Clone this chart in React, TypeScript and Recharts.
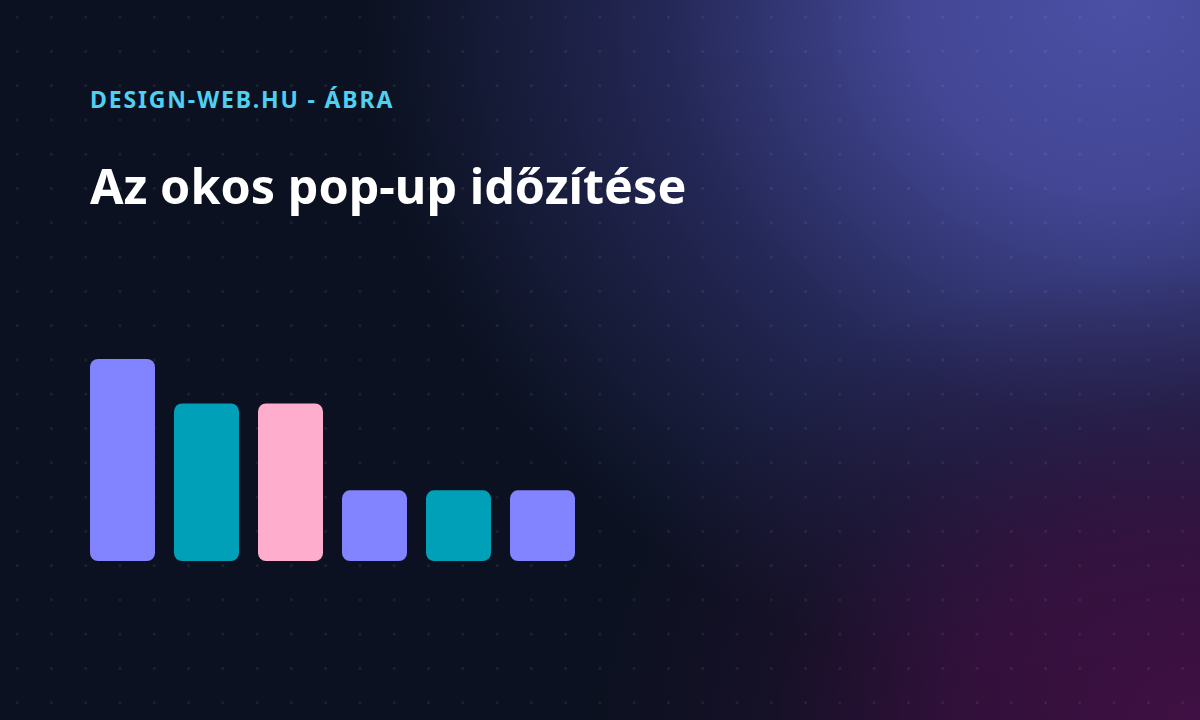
import { Bar, BarChart, Cell, XAxis, YAxis } from "recharts";

// Ábra adatai
const steps = ["1", "2", "3", "4", "5", "6"];
const values = [100, 78, 78, 35, 35, 35];
const barColors = ["#8183ff", "#00a0b8", "#ffadcc", "#8183ff", "#00a0b8", "#8183ff"];

const eyebrow = "DESIGN-WEB.HU - ÁBRA";
const title = "Az okos pop-up időzítése";

const data = steps.map((s, i) => ({ step: s, value: values[i] }));

const font = "'Noto Sans', 'Open Sans', sans-serif";

export default function App() {
  return (
    <div
      style={{
        position: "absolute",
        left: 0,
        top: 0,
        width: 1200,
        height: 720,
        overflow: "hidden",
        fontFamily: font,
        background: [
          "radial-gradient(rgba(255,255,255,0.08) 1px, transparent 1.6px) 0 0 / 34.29px 34.29px",
          "radial-gradient(ellipse 620px 460px at 1200px 720px, rgba(64,16,68,1) 0%, rgba(58,16,64,0.8) 40%, rgba(40,16,50,0.35) 70%, rgba(11,17,32,0) 100%)",
          "radial-gradient(ellipse 760px 700px at 1120px 0px, rgba(76,80,166,1) 0%, rgba(72,76,160,0.9) 28%, rgba(56,58,130,0.55) 60%, rgba(11,17,32,0) 100%)",
          "#0b1120",
        ].join(", "),
      }}
    >
      <div
        style={{
          position: "absolute",
          left: 90,
          top: 88,
          fontSize: 23,
          lineHeight: 1,
          fontWeight: 700,
          letterSpacing: 1.85,
          color: "#4fd0f0",
        }}
      >
        {eyebrow}
      </div>
      <div
        style={{
          position: "absolute",
          left: 90,
          top: 161,
          fontSize: 48.5,
          lineHeight: 1,
          fontWeight: 700,
          color: "#ffffff",
        }}
      >
        {title}
      </div>
      <div style={{ position: "absolute", left: 79.5, top: 359 }}>
        <BarChart
          width={504}
          height={202}
          data={data}
          margin={{ top: 0, right: 0, bottom: 0, left: 0 }}
          barSize={65}
        >
          <XAxis dataKey="step" hide />
          <YAxis hide domain={[0, 100]} />
          <Bar dataKey="value" radius={8} isAnimationActive={false}>
            {data.map((d, i) => (
              <Cell key={d.step} fill={barColors[i]} />
            ))}
          </Bar>
        </BarChart>
      </div>
    </div>
  );
}
